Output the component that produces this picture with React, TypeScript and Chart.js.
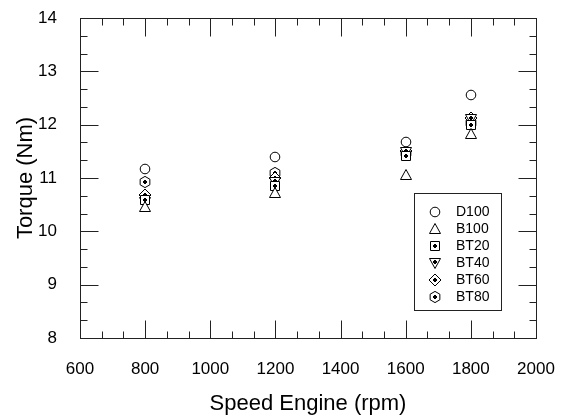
import React, { useEffect, useRef } from 'react';
import { Chart, registerables } from 'chart.js';

Chart.register(...registerables);

const speeds = [800, 1200, 1600, 1800];
const D100 = [11.16, 11.4, 11.67, 12.55];
const B100 = [10.45, 10.72, 11.05, 11.83];
const BT20 = [10.58, 10.85, 11.42, 12.0];
const BT40 = [10.55, 10.92, 11.48, 12.1];
const BT60 = [10.68, 11.0, 11.5, 12.12];
const BT80 = [10.92, 11.1, 11.47, 12.03];
const seriesNames = ['D100', 'B100', 'BT20', 'BT40', 'BT60', 'BT80'];
const seriesValues = [D100, B100, BT20, BT40, BT60, BT80];
const xRange = [600, 2000];
const yRange = [8, 14];
const xStep = 200;
const yStep = 1;

const FONT = '"Liberation Sans", Arial, Helvetica, sans-serif';

function makeMarker(kind: string): HTMLCanvasElement {
  const c = document.createElement('canvas');
  c.width = 16;
  c.height = 16;
  const ctx = c.getContext('2d')!;
  ctx.lineWidth = 1;
  ctx.strokeStyle = '#000';
  ctx.fillStyle = '#fff';
  ctx.beginPath();
  let dotY = 8;
  if (kind === 'circle') {
    ctx.arc(8, 8, 4.8, 0, Math.PI * 2);
  } else if (kind === 'triUp') {
    ctx.moveTo(8, 2.5);
    ctx.lineTo(13.5, 12.5);
    ctx.lineTo(2.5, 12.5);
    ctx.closePath();
  } else if (kind === 'square') {
    ctx.rect(3.5, 3.5, 9, 9);
  } else if (kind === 'triDown') {
    ctx.moveTo(2.5, 3.5);
    ctx.lineTo(13.5, 3.5);
    ctx.lineTo(8, 13.5);
    ctx.closePath();
    dotY = 7;
  } else if (kind === 'diamond') {
    ctx.moveTo(8, 2);
    ctx.lineTo(14, 8);
    ctx.lineTo(8, 14);
    ctx.lineTo(2, 8);
    ctx.closePath();
  } else if (kind === 'hexagon') {
    for (let k = 0; k < 6; k++) {
      const a = -Math.PI / 2 + (k * Math.PI) / 3;
      const px = 8 + 5.6 * Math.cos(a);
      const py = 8 + 5.6 * Math.sin(a);
      if (k === 0) ctx.moveTo(px, py);
      else ctx.lineTo(px, py);
    }
    ctx.closePath();
  }
  ctx.fill();
  ctx.stroke();
  if (kind !== 'circle' && kind !== 'triUp') {
    ctx.fillStyle = '#000';
    ctx.fillRect(6, dotY - 1, 4, 2);
    ctx.fillRect(7, dotY - 2, 2, 4);
  }
  return c;
}

const markerKinds = ['circle', 'triUp', 'square', 'triDown', 'diamond', 'hexagon'];

export default function App() {
  const ref = useRef<HTMLCanvasElement | null>(null);

  useEffect(() => {
    if (!ref.current) return;
    const markers = markerKinds.map(makeMarker);

    const framePlugin = {
      id: 'frameTicks',
      beforeDatasetsDraw(chart: any) {
        const { ctx, chartArea } = chart;
        const xs = chart.scales.x;
        const ys = chart.scales.y;
        const L = Math.round(chartArea.left) + 0.5;
        const R = Math.round(chartArea.right) + 0.5;
        const T = Math.round(chartArea.top) + 0.5;
        const B = Math.round(chartArea.bottom) + 0.5;
        ctx.save();
        ctx.strokeStyle = '#222';
        ctx.lineWidth = 1;
        ctx.strokeRect(L, T, R - L, B - T);
        ctx.beginPath();
        const major = 18;
        const minor = 7;
        for (let v = xRange[0]; v <= xRange[1] + 1e-6; v += xStep / 3) {
          const idx = Math.round((v - xRange[0]) / (xStep / 3));
          const len = idx % 3 === 0 ? major : minor;
          const px = Math.round(xs.getPixelForValue(v)) + 0.5;
          ctx.moveTo(px, B);
          ctx.lineTo(px, B - len);
          ctx.moveTo(px, T);
          ctx.lineTo(px, T + len);
        }
        for (let v = yRange[0]; v <= yRange[1] + 1e-6; v += yStep / 3) {
          const idx = Math.round((v - yRange[0]) / (yStep / 3));
          const len = idx % 3 === 0 ? major : minor;
          const py = Math.round(ys.getPixelForValue(v)) + 0.5;
          ctx.moveTo(L, py);
          ctx.lineTo(L + len, py);
          ctx.moveTo(R, py);
          ctx.lineTo(R - len, py);
        }
        ctx.stroke();
        ctx.restore();
        ctx.imageSmoothingEnabled = false;
      },
      afterDraw(chart: any) {
        const { ctx, chartArea } = chart;
        const bx = Math.round(chartArea.left) + 334.5;
        const by = Math.round(chartArea.top) + 175.5;
        ctx.save();
        ctx.imageSmoothingEnabled = false;
        ctx.strokeStyle = '#222';
        ctx.lineWidth = 1;
        ctx.fillStyle = '#fff';
        ctx.fillRect(bx, by, 87, 117);
        ctx.strokeRect(bx, by, 87, 117);
        ctx.font = '14px ' + FONT;
        ctx.textBaseline = 'middle';
        ctx.textAlign = 'left';
        ctx.fillStyle = '#000';
        seriesNames.forEach((name, i) => {
          const cy = Math.round(by + 18.5 + i * 16.9);
          ctx.drawImage(markers[i], Math.round(bx + 20.5 - 8), cy - 8);
          ctx.fillText(name, bx + 41.5, cy + 0.5);
        });
        ctx.restore();
      },
    };

    const chart = new Chart(ref.current, {
      type: 'scatter',
      data: {
        datasets: seriesNames.map((name, i) => ({
          label: name,
          data: speeds.map((s, j) => ({ x: s, y: seriesValues[i][j] })),
          pointStyle: markers[i] as any,
          pointRadius: 5,
          showLine: false,
        })),
      },
      options: {
        responsive: false,
        animation: false,
        events: [],
        layout: { padding: { top: 18, right: 30, left: 0, bottom: 0 } },
        plugins: {
          legend: { display: false },
          tooltip: { enabled: false },
        },
        scales: {
          x: {
            type: 'linear',
            min: xRange[0],
            max: xRange[1],
            afterFit(scale: any) {
              scale.height = 77;
              scale.paddingLeft = 0;
              scale.paddingRight = 0;
            },
            ticks: {
              stepSize: xStep,
              autoSkip: false,
              maxRotation: 0,
              padding: 21,
              color: '#000',
              font: { family: FONT, size: 17 },
              callback: (v: any) => String(v),
            },
            grid: { display: false, drawTicks: false },
            border: { display: false },
            title: {
              display: true,
              text: 'Speed Engine (rpm)',
              color: '#000',
              font: { family: FONT, size: 22, lineHeight: 1 },
              padding: { top: 0, bottom: 0 },
            },
          },
          y: {
            type: 'linear',
            min: yRange[0],
            max: yRange[1],
            afterFit(scale: any) {
              scale.width = 80;
              scale.paddingTop = 0;
              scale.paddingBottom = 0;
            },
            ticks: {
              stepSize: yStep,
              autoSkip: false,
              padding: 23,
              color: '#000',
              font: { family: FONT, size: 17 },
              callback: (v: any) => String(v),
            },
            grid: { display: false, drawTicks: false },
            border: { display: false },
            title: {
              display: true,
              text: 'Torque (Nm)',
              color: '#000',
              font: { family: FONT, size: 22, lineHeight: 1 },
              padding: { top: 15, bottom: 0 },
            },
          },
        },
      },
      plugins: [framePlugin],
    });
    return () => chart.destroy();
  }, []);

  return (
    <div style={{ position: 'absolute', left: 0, top: 0, width: 566, height: 415, background: '#fff' }}>
      <canvas ref={ref} width={566} height={415} style={{ display: 'block' }} />
    </div>
  );
}
